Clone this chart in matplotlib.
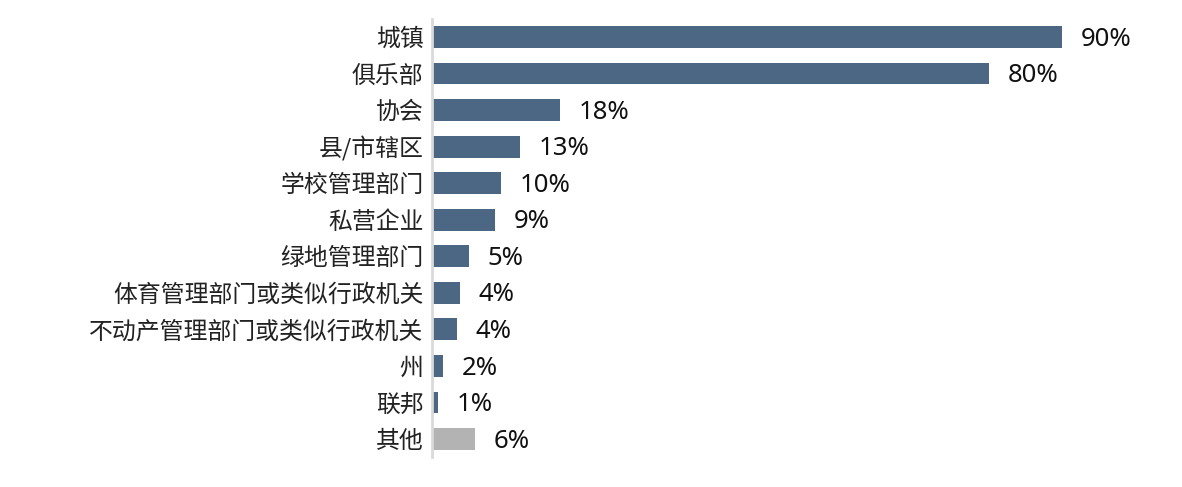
import matplotlib
matplotlib.use("Agg")
import matplotlib.pyplot as plt

categories = ["城镇", "俱乐部", "协会", "县/市辖区", "学校管理部门", "私营企业", "绿地管理部门",
              "体育管理部门或类似行政机关", "不动产管理部门或类似行政机关", "州", "联邦", "其他"]
values = [90, 79.6, 18.3, 12.6, 9.9, 9.0, 5.3, 4.0, 3.6, 1.6, 0.9, 6.1]
labels = ["90%", "80%", "18%", "13%", "10%", "9%", "5%", "4%", "4%", "2%", "1%", "6%"]

plt.rcParams['font.family'] = ['Noto Sans CJK SC', 'DejaVu Sans']

fig = plt.figure(figsize=(11.82, 4.87), dpi=100)
ax = fig.add_axes([432/1182, 1-457.3/487, 700/1182, (457.3-18.7)/487])

colors = ["#4b6783"] * (len(categories) - 1) + ["#b3b3b3"]
ys = list(range(len(categories)))
ax.barh(ys, values, height=0.6, color=colors)
for y, v, l in zip(ys, values, labels):
    ax.annotate(l, (v, y), xytext=(13.5, -1.5), textcoords="offset points",
                va="center", ha="left", fontsize=18.5, color="#111111",
                family=["Noto Sans", "DejaVu Sans"])

ax.set_xlim(0, 100)
ax.set_ylim(len(categories) - 0.5, -0.5)
ax.set_yticks(ys)
ax.set_yticklabels(categories, fontsize=17.2, color="#222222")
ax.tick_params(axis="y", length=0, pad=6)
ax.set_xticks([])
for s in ["top", "right", "bottom"]:
    ax.spines[s].set_visible(False)
ax.spines["left"].set_color("#d9d9d9")
ax.spines["left"].set_linewidth(2)

fig.savefig("out.png", dpi=100)
